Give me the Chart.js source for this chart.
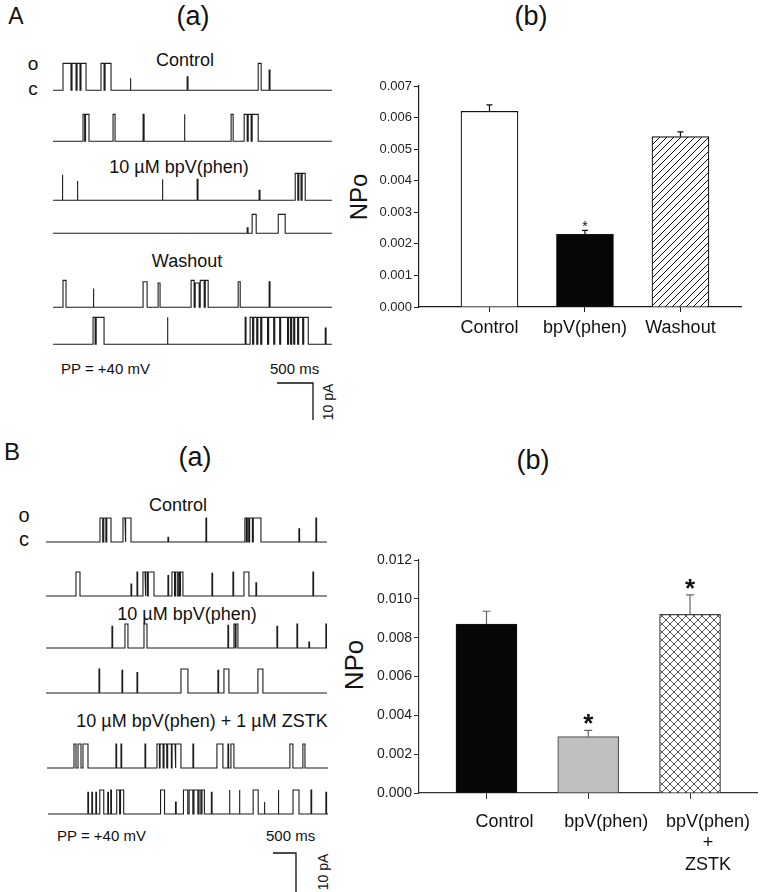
<!DOCTYPE html>
<html>
<head>
<meta charset="utf-8">
<script src="https://cdn.jsdelivr.net/npm/chart.js@4.4.0/dist/chart.umd.min.js"></script>
<style>
body { margin: 0; background: #fff; }
#fig { position: relative; width: 765px; height: 892px; overflow: hidden; font-family: "Liberation Sans", Arial, sans-serif; color: #111; }
.t { position: absolute; white-space: nowrap; transform: translate(-50%, -50%); line-height: 1; }
.l { position: absolute; white-space: nowrap; transform: translate(0, -50%); line-height: 1; font-size: 15px; }
.r { position: absolute; white-space: nowrap; transform: translate(-50%, -50%) rotate(-90deg); line-height: 1; }
canvas { position: absolute; }
</style>
</head>
<body>
<div id="fig">
  <div class="t" style="left:16px;top:16px;font-size:23px">A</div>
  <div class="t" style="left:193px;top:16px;font-size:27px">(a)</div>
  <div class="t" style="left:531px;top:16px;font-size:27px">(b)</div>
  <div class="t" style="left:33px;top:63px;font-size:19px">o</div>
  <div class="t" style="left:33px;top:88px;font-size:19px">c</div>
  <div class="t" style="left:185px;top:60px;font-size:18px">Control</div>
  <div class="t" style="left:179px;top:167px;font-size:18px">10 µM bpV(phen)</div>
  <div class="t" style="left:187px;top:261px;font-size:18px">Washout</div>
  <div class="l" style="left:61px;top:368px">PP = +40 mV</div>
  <div class="l" style="left:270px;top:368px">500 ms</div>
  <div class="r" style="left:328px;top:402px;font-size:14px">10 pA</div>
  <div class="r" style="left:359px;top:197px;font-size:24px">NPo</div>

  <div class="t" style="left:12px;top:452px;font-size:24px">B</div>
  <div class="t" style="left:195px;top:457px;font-size:27px">(a)</div>
  <div class="t" style="left:533px;top:460px;font-size:27px">(b)</div>
  <div class="t" style="left:24px;top:515px;font-size:20px">o</div>
  <div class="t" style="left:24px;top:539px;font-size:20px">c</div>
  <div class="t" style="left:178px;top:505px;font-size:18px">Control</div>
  <div class="t" style="left:187px;top:614px;font-size:18px">10 µM bpV(phen)</div>
  <div class="t" style="left:202px;top:721px;font-size:18px">10 µM bpV(phen) + 1 µM ZSTK</div>
  <div class="l" style="left:57px;top:835px">PP = +40 mV</div>
  <div class="l" style="left:266px;top:835px">500 ms</div>
  <div class="r" style="left:323px;top:872px;font-size:14px">10 pA</div>
  <div class="r" style="left:354px;top:665px;font-size:26px">NPo</div>
</div>

<script>
// ---- bar chart values (NPo, mean and SEM) ----
const barLabelsA = ['Control', 'bpV(phen)', 'Washout'];
const npoA = [0.0062, 0.0023, 0.0054];
const semA = [0.0002, 0.00013, 0.00015];
const sigA = ['', '*', ''];
const yTicksA = [0, 0.001, 0.002, 0.003, 0.004, 0.005, 0.006, 0.007];

const barLabelsB = ['Control', 'bpV(phen)', ['bpV(phen)', '+', 'ZSTK']];
const npoB = [0.0087, 0.0029, 0.0092];
const semB = [0.00066, 0.00033, 0.001];
const sigB = ['', '*', '*'];
const yTicksB = [0, 0.002, 0.004, 0.006, 0.008, 0.010, 0.012];

// ---- single channel traces: openings as [start ms, end ms, fraction of unitary current] ----
const traceLenA = 3875;   // ms per sweep, panel A
const unitPaA = 7.3;      // pA
const ctrlA1 = [[139,250,1],[264,320,1],[334,375,1],[389,459,1],[667,709,1],[723,806,1],[1070,1082,0.45],[1863,1875,0.5],[2850,2891,1],[3002,3014,0.75]];
const ctrlA2 = [[417,440,1],[452,500,1],[834,862,1],[1251,1265,1],[1821,1833,1],[2474,2502,1],[2655,2697,1],[2711,2752,1],[2766,2850,1]];
const bpvA1 = [[125,137,0.95],[334,346,0.72],[1515,1527,0.78],[2002,2014,0.78],[2863,2875,0.37],[3364,3400,1],[3414,3445,1],[3460,3503,1]];
const bpvA2 = [[2697,2709,0.2],[2766,2822,0.7],[3128,3225,0.7]];
const washA1 = [[139,181,1],[556,568,0.7],[1251,1307,0.95],[1460,1487,0.9],[1918,1960,1],[1975,2030,0.9],[2045,2100,1],[2115,2155,1],[2572,2600,0.95],[3002,3014,0.95]];
const washA2 = [[556,585,1],[600,709,1],[1585,1597,1],[2669,2681,1],[2738,2772,1],[2788,2830,1],[2845,2885,1],[2900,2980,1],[2995,3065,1],[3080,3148,1],[3162,3258,1],[3272,3300,1],[3315,3343,1],[3357,3398,1],[3412,3468,1],[3482,3545,1],[3781,3793,0.6]];

const traceLenB = 6100;   // ms per sweep, panel B
const unitPaB = 6;        // pA
const ctrlB1 = [[1172,1230,1],[1255,1300,1],[1320,1411,1],[1671,1715,1],[1735,1845,1],[2647,2662,0.2],[3472,3487,1],[4318,4350,1],[4370,4400,1],[4420,4480,1],[4500,4666,1],[5490,5505,0.55],[5859,5874,1]];
const ctrlB2 = [[651,738,1],[1845,1860,0.5],[1975,1990,1],[2105,2150,1],[2170,2200,1],[2220,2344,1],[2647,2662,0.85],[2734,2790,1],[2810,2850,1],[2880,2900,1],[2920,2973,1],[3602,3617,0.95],[4058,4073,1],[4297,4405,1],[4557,4572,0.55],[5794,5809,1]];
const bpvB1 = [[1432,1447,0.9],[1714,1779,1],[2127,2192,1],[3949,3964,0.95],[4080,4110,1],[4125,4166,1],[5013,5028,0.9],[5447,5462,1],[5707,5722,0.25],[6076,6091,1]];
const bpvB2 = [[1150,1165,1],[1649,1664,0.95],[1975,1990,0.85],[2930,3081,1],[3732,3747,0.95],[3863,3971,1],[4600,4709,1]];
const zstkB1 = [[586,629,1],[673,738,1],[781,890,1],[1497,1512,1],[1606,1621,1],[2127,2142,1],[2387,2440,1],[2455,2520,1],[2540,2600,1],[2620,2700,1],[2715,2780,1],[2800,2908,1],[3168,3183,1],[3689,3819,1],[3928,3943,1],[3993,4058,1],[5273,5338,1],[5555,5600,1]];
const zstkB2 = [[868,883,0.9],[955,970,0.9],[1042,1057,0.9],[1128,1215,1],[1302,1317,0.9],[1367,1382,1],[1497,1560,1],[1580,1649,1],[2452,2539,1],[2778,2793,0.5],[2951,3045,1],[3075,3155,1],[3180,3265,1],[3290,3330,1],[3355,3407,1],[3559,3574,0.9],[3949,3964,1],[4166,4181,1],[4470,4579,1],[4709,4724,0.5],[5013,5028,1],[5338,5468,1],[5729,5744,1],[6054,6069,0.9]];

const scaleBarMs = 500;
const scaleBarPa = 10;

Chart.defaults.font.family = '"Liberation Sans", Arial, sans-serif';
Chart.defaults.color = '#111';

const fig = document.getElementById('fig');

function addCanvas(left, top, w, h) {
    const c = document.createElement('canvas');
    c.width = w;
    c.height = h;
    c.style.left = left + 'px';
    c.style.top = top + 'px';
    fig.appendChild(c);
    return c;
}

const quiet = { legend: { display: false }, tooltip: { enabled: false } };

function traceChart(left, baseline, width, events, lenMs, unitPa, yMax) {
    const canvas = addCanvas(left, baseline - 30, width, 34);
    const pts = [{ x: 0, y: 0 }];
    events.forEach(([s, e, a]) => {
        pts.push({ x: s, y: 0 }, { x: s, y: a * unitPa }, { x: e, y: a * unitPa }, { x: e, y: 0 });
    });
    pts.push({ x: lenMs, y: 0 });
    return new Chart(canvas, {
        type: 'line',
        data: { datasets: [{ data: pts, borderColor: '#1c1c1c', borderWidth: 1.1, pointRadius: 0, tension: 0, fill: false, clip: false }] },
        options: {
            animation: false, responsive: false, events: [],
            layout: { padding: 0 },
            plugins: quiet,
            scales: {
                x: { type: 'linear', display: false, min: 0, max: lenMs },
                y: { type: 'linear', display: false, min: -1, max: yMax }
            }
        }
    });
}

// panel A traces
traceChart(53, 90, 279, ctrlA1, traceLenA, unitPaA, 8.2);
traceChart(53, 141, 279, ctrlA2, traceLenA, unitPaA, 8.2);
traceChart(53, 200, 279, bpvA1, traceLenA, unitPaA, 8.2);
traceChart(53, 233, 279, bpvA2, traceLenA, unitPaA, 8.2);
traceChart(53, 307, 279, washA1, traceLenA, unitPaA, 8.2);
traceChart(53, 344, 279, washA2, traceLenA, unitPaA, 8.2);
// panel B traces
traceChart(46, 542, 281, ctrlB1, traceLenB, unitPaB, 7.5);
traceChart(46, 596, 281, ctrlB2, traceLenB, unitPaB, 7.5);
traceChart(46, 648, 281, bpvB1, traceLenB, unitPaB, 7.5);
traceChart(46, 693, 281, bpvB2, traceLenB, unitPaB, 7.5);
traceChart(47, 768, 281, zstkB1, traceLenB, unitPaB, 7.5);
traceChart(48, 814, 280, zstkB2, traceLenB, unitPaB, 7.5);

function scaleBar(left, top, w, h) {
    const canvas = addCanvas(left - 4, top - 4, w + 8, h + 8);
    return new Chart(canvas, {
        type: 'line',
        data: { datasets: [{ data: [{ x: 0, y: scaleBarPa }, { x: scaleBarMs, y: scaleBarPa }, { x: scaleBarMs, y: 0 }], borderColor: '#111', borderWidth: 1.3, pointRadius: 0, tension: 0, clip: false }] },
        options: {
            animation: false, responsive: false, events: [],
            layout: { padding: 4 },
            plugins: quiet,
            scales: {
                x: { type: 'linear', display: false, min: 0, max: scaleBarMs },
                y: { type: 'linear', display: false, min: 0, max: scaleBarPa }
            }
        }
    });
}
scaleBar(277, 383, 36, 37);
scaleBar(273, 853, 23, 42);

function hatch(size, both, color, lw) {
    const c = document.createElement('canvas');
    c.width = size;
    c.height = size;
    const g = c.getContext('2d');
    g.fillStyle = '#fff';
    g.fillRect(0, 0, size, size);
    g.strokeStyle = color;
    g.lineWidth = lw;
    g.beginPath();
    g.moveTo(-1, size + 1); g.lineTo(size + 1, -1);
    g.moveTo(-1, 1); g.lineTo(1, -1);
    g.moveTo(size - 1, size + 1); g.lineTo(size + 1, size - 1);
    if (both) {
        g.moveTo(-1, -1); g.lineTo(size + 1, size + 1);
        g.moveTo(size - 1, -1); g.lineTo(size + 1, 1);
        g.moveTo(-1, size - 1); g.lineTo(1, size + 1);
    }
    g.stroke();
    return g.createPattern(c, 'repeat');
}

function errorPlugin(errs, sigs, opts) {
    return {
        id: 'errbars',
        afterDatasetsDraw(chart) {
            const ctx = chart.ctx;
            const ys = chart.scales.y;
            const ds = chart.data.datasets[0];
            chart.getDatasetMeta(0).data.forEach((bar, i) => {
                const top = ys.getPixelForValue(ds.data[i].y + errs[i]);
                ctx.save();
                ctx.strokeStyle = opts.color;
                ctx.lineWidth = 1.2;
                ctx.beginPath();
                ctx.moveTo(bar.x, bar.y);
                ctx.lineTo(bar.x, top);
                ctx.moveTo(bar.x - opts.cap, top);
                ctx.lineTo(bar.x + opts.cap, top);
                ctx.stroke();
                if (sigs[i]) {
                    ctx.fillStyle = '#111';
                    ctx.font = opts.starFont;
                    ctx.textAlign = 'center';
                    ctx.textBaseline = 'alphabetic';
                    ctx.fillText(sigs[i], bar.x, top - opts.starGap);
                }
                ctx.restore();
            });
        }
    };
}

function barChart(cfg) {
    const canvas = addCanvas(cfg.left, cfg.top, cfg.w, cfg.h);
    return new Chart(canvas, {
        type: 'bar',
        data: {
            datasets: [{
                data: cfg.values.map((v, i) => ({ x: i + 1, y: v })),
                backgroundColor: cfg.fills,
                borderColor: cfg.borders,
                borderWidth: 1.2,
                borderSkipped: 'start',
                barThickness: cfg.barW
            }]
        },
        options: {
            animation: false, responsive: false, events: [],
            layout: { padding: { top: cfg.padTop, right: cfg.padRight, left: 0, bottom: 0 } },
            plugins: quiet,
            scales: {
                x: {
                    type: 'linear', offset: false, min: cfg.xMin, max: cfg.xMax,
                    afterBuildTicks: s => { s.ticks = cfg.labels.map((_, i) => ({ value: i + 1 })); },
                    afterFit: s => { s.height = cfg.xAxisH; },
                    ticks: {
                        callback: v => cfg.labels[v - 1], autoSkip: false, maxRotation: 0,
                        font: { size: 18 }, color: '#111', padding: cfg.xPad, labelOffset: cfg.labelOffset
                    },
                    grid: { offset: false, drawOnChartArea: false, drawTicks: true, tickLength: cfg.tickX, color: cfg.axis },
                    border: { display: true, color: cfg.axis, width: 1.2 }
                },
                y: {
                    min: 0, max: cfg.yTicks[cfg.yTicks.length - 1],
                    afterBuildTicks: s => { s.ticks = cfg.yTicks.map(v => ({ value: v })); },
                    afterFit: s => { s.width = 49; },
                    ticks: { callback: v => v.toFixed(3), font: { size: cfg.yFont }, color: '#222', padding: 2 },
                    grid: { drawOnChartArea: false, drawTicks: true, tickLength: 5, color: cfg.axis },
                    border: { display: true, color: cfg.axis, width: 1.2 }
                }
            }
        },
        plugins: [errorPlugin(cfg.errs, cfg.sigs, cfg.err)]
    });
}

barChart({
    left: 370, top: 70, w: 395, h: 290, padTop: 16, padRight: 24, xAxisH: 53,
    values: npoA, errs: semA, sigs: sigA, labels: barLabelsA, yTicks: yTicksA,
    fills: ['#ffffff', '#060606', hatch(7, false, '#111', 1)],
    borders: ['#111', '#111', '#111'],
    barW: 57, xMin: 0.262, xMax: 3.634, xPad: 5, labelOffset: 0, tickX: 5, yFont: 13,
    axis: '#1a1a1a',
    err: { color: '#111', cap: 3, starFont: '14px "Liberation Sans", Arial, sans-serif', starGap: -1 }
});

barChart({
    left: 370, top: 540, w: 395, h: 352, padTop: 20, padRight: 8, xAxisH: 99,
    values: npoB, errs: semB, sigs: sigB, labels: barLabelsB, yTicks: yTicksB,
    fills: ['#060606', '#c0c0c0', hatch(8, true, '#555', 1)],
    borders: ['#111', '#555', '#444'],
    barW: 61, xMin: 0.337, xMax: 3.658, xPad: 12, labelOffset: 18, tickX: 6, yFont: 14,
    axis: '#333',
    err: { color: '#666', cap: 4, starFont: 'bold 26px "Liberation Sans", Arial, sans-serif', starGap: -2 }
});
</script>
</body>
</html>
